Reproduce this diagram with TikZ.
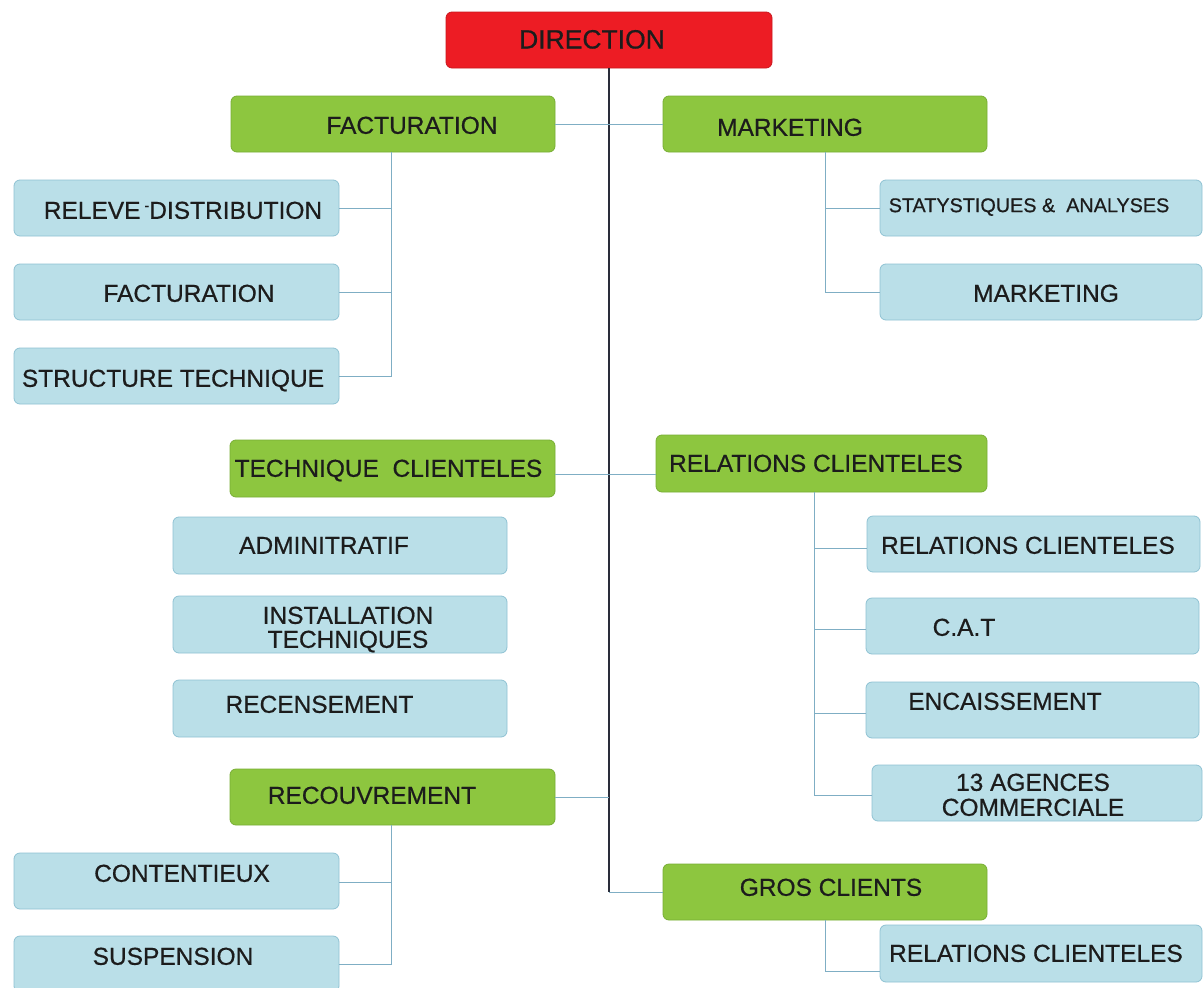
\documentclass[tikz,border=0pt]{standalone}
\usepackage{fontspec}
\setmainfont[FakeBold=0.6]{Liberation Sans}
\definecolor{dirred}{HTML}{ED1C24}
\definecolor{dirredd}{HTML}{C9171D}
\definecolor{grn}{HTML}{8DC63F}
\definecolor{grnd}{HTML}{78AE35}
\definecolor{lblue}{HTML}{BADFE8}
\definecolor{lblued}{HTML}{8FC2D3}
\definecolor{txt}{HTML}{1C1C1C}
\definecolor{trunkc}{HTML}{2A2D3A}
\definecolor{linkc}{HTML}{7FAEC4}
\tikzset{
  box/.style={rectangle, rounded corners=6pt, draw, line width=0.8pt, inner sep=0pt},
  redbox/.style={box, fill=dirred, draw=dirredd},
  greenbox/.style={box, fill=grn, draw=grnd},
  bluebox/.style={box, fill=lblue, draw=lblued},
  lbl/.style={inner sep=0pt, text height=17.6pt, text depth=0pt, text=txt,
              font=\fontsize{24.5}{26}\selectfont},
  bigl/.style={lbl, text height=19pt, font=\fontsize{26.5}{28}\selectfont},
  smalll/.style={lbl, text height=14.2pt, font=\fontsize{19.8}{21}\selectfont},
  trunk/.style={line width=1.4pt, draw=trunkc},
  link/.style={line width=1pt, draw=linkc},
}
\begin{document}
\begin{tikzpicture}[x=1pt, y=-1pt]
\useasboundingbox (0,0) rectangle (1203,988);
\clip (0,0) rectangle (1203,988);
\fill[white] (0,0) rectangle (1203,988);

% ---- boxes ----
\node[redbox, minimum width=326pt, minimum height=56pt] (dir) at (609,40) {};
\node[greenbox, minimum width=324pt, minimum height=56pt] (fact) at (393,124) {};
\node[greenbox, minimum width=324pt, minimum height=56pt] (mark) at (825,124) {};

\node[bluebox, minimum width=325pt, minimum height=56pt] (f1) at (176.5,208) {};
\node[bluebox, minimum width=325pt, minimum height=56pt] (f2) at (176.5,292) {};
\node[bluebox, minimum width=325pt, minimum height=56pt] (f3) at (176.5,376) {};

\node[bluebox, minimum width=322pt, minimum height=56pt] (m1) at (1041,208) {};
\node[bluebox, minimum width=322pt, minimum height=56pt] (m2) at (1041,292) {};

\node[greenbox, minimum width=325pt, minimum height=57pt] (tech) at (392.5,468.5) {};
\node[greenbox, minimum width=331pt, minimum height=57pt] (rel) at (821.5,463.5) {};

\node[bluebox, minimum width=334pt, minimum height=57pt] (adm) at (340,545.5) {};
\node[bluebox, minimum width=334pt, minimum height=57pt] (inst) at (340,624.5) {};
\node[bluebox, minimum width=334pt, minimum height=57pt] (recs) at (340,708.5) {};

\node[bluebox, minimum width=333pt, minimum height=56pt] (r1) at (1033.5,544) {};
\node[bluebox, minimum width=333pt, minimum height=56pt] (r2) at (1032.5,626) {};
\node[bluebox, minimum width=333pt, minimum height=56pt] (r3) at (1032.5,710) {};
\node[bluebox, minimum width=330pt, minimum height=56pt] (r4) at (1037,793) {};

\node[greenbox, minimum width=325pt, minimum height=56pt] (recv) at (392.5,797) {};
\node[bluebox, minimum width=325pt, minimum height=56pt] (c1) at (176.5,881) {};
\node[bluebox, minimum width=325pt, minimum height=56pt] (c2) at (176.5,964) {};

\node[greenbox, minimum width=324pt, minimum height=56pt] (gros) at (825,892) {};
\node[bluebox, minimum width=322pt, minimum height=57pt] (g1) at (1041,953.5) {};

% ---- connectors ----
\coordinate (tend) at (dir.south |- gros.west);
\draw[trunk] (dir.south) -- (tend);
\draw[link] (fact.east) -- (mark.west);
\draw[link] ([yshift=-5.5pt]tech.east) -- ([yshift=-5.5pt]tech.east -| rel.west);
\draw[link] (recv.east) -- (recv.east -| dir.south);
\draw[link] (tend) -- (gros.west);

\draw[link] ([xshift=-2pt]fact.south) |- (f1.east);
\draw[link] ([xshift=-2pt]fact.south) |- (f2.east);
\draw[link] ([xshift=-2pt]fact.south) |- (f3.east);

\draw[link] (mark.south) |- (m1.west);
\draw[link] (mark.south) |- (m2.west);

\draw[link] ([xshift=-7.5pt]rel.south) |- ([yshift=-4pt]r1.west);
\draw[link] ([xshift=-7.5pt]rel.south) |- ([yshift=-3pt]r2.west);
\draw[link] ([xshift=-7.5pt]rel.south) |- ([yshift=-3pt]r3.west);
\draw[link] ([xshift=-7.5pt]rel.south) |- ([yshift=-2pt]r4.west);

\draw[link] ([xshift=-1.5pt]recv.south) |- ([yshift=-1pt]c1.east);
\draw[link] ([xshift=-1.5pt]recv.south) |- (c2.east);

\draw[link] (gros.south) |- ([yshift=-17.5pt]g1.west);

% ---- labels ----
\node[bigl] (tdir) at (592,39) {DIRECTION};
\node[lbl] (tfact) at (412,125) {FACTURATION};
\node[lbl] (tmark) at (790,127) {MARKETING};
\node[lbl] (tf1) at (183,210) {RELEVE\,\raisebox{0.35em}{\fontsize{14}{14}\selectfont -}DISTRIBUTION};
\node[lbl] (tf2) at (189,293) {FACTURATION};
\node[lbl] (tf3) at (173,378) {STRUCTURE TECHNIQUE};
\node[smalll] (tm1) at (1029,205) {STATYSTIQUES \&\ \ ANALYSES};
\node[lbl] (tm2) at (1046,293) {MARKETING};
\node[lbl] (ttech) at (388.5,468) {TECHNIQUE\ \ CLIENTELES};
\node[lbl] (trel) at (816,463) {RELATIONS CLIENTELES};
\node[lbl] (tadm) at (324,545) {ADMINITRATIF};
\node[lbl] (tinsta) at (348,615) {INSTALLATION};
\node[lbl] (tinstb) at (348,639) {TECHNIQUES};
\node[lbl] (trecs) at (319.5,704) {RECENSEMENT};
\node[lbl] (trecv) at (372,795) {RECOUVREMENT};
\node[lbl] (tc1) at (182,873) {CONTENTIEUX};
\node[lbl] (tc2) at (173,956) {SUSPENSION};
\node[lbl] (tr1) at (1028,545) {RELATIONS CLIENTELES};
\node[lbl] (tr2) at (964,627) {C.A.T};
\node[lbl] (tr3) at (1005,701) {ENCAISSEMENT};
\node[lbl] (tr4a) at (1033,782) {13 AGENCES};
\node[lbl] (tr4b) at (1033,807) {COMMERCIALE};
\node[lbl] (tgros) at (831,887) {GROS CLIENTS};
\node[lbl] (tg1) at (1036,953) {RELATIONS CLIENTELES};
\end{tikzpicture}
\end{document}
